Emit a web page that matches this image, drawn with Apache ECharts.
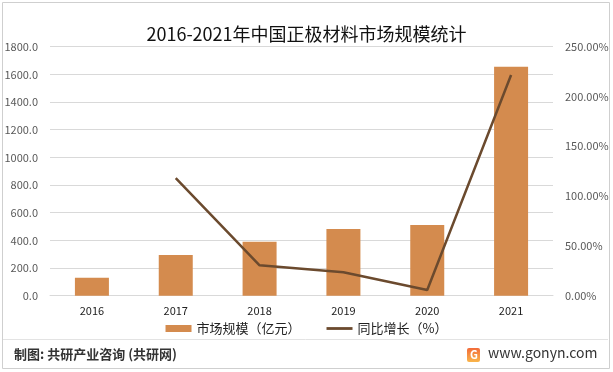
<!DOCTYPE html>
<html><head><meta charset="utf-8">
<script src="https://cdn.jsdelivr.net/npm/echarts@6/dist/echarts.min.js"></script>
<style>html,body{margin:0;padding:0;background:#fff}#c{width:613px;height:372px}</style>
</head><body><div id="c"></div>
<script>
const categories = ['2016','2017','2018','2019','2020','2021'];
const marketSize = [130, 294, 390, 482, 511, 1655];
const growth = [null, 118, 30.5, 23.5, 5.7, 221.6];
const leftTicks = [0, 1800, 200];
const rightTicks = [0, 250, 50];
const font = '"Noto Sans CJK SC", "Noto Sans", sans-serif';

const chart = echarts.init(document.getElementById('c'));
chart.setOption({
  animation: false,
  textStyle: { fontFamily: font },
  title: {
    text: '2016-2021年中国正极材料市场规模统计',
    left: 'center', top: 20,
    textStyle: { fontSize: 18, fontWeight: 'normal', color: '#111', fontFamily: font }
  },
  grid: { left: 50, right: 60, top: 46.7, bottom: 76.3 },
  legend: {
    top: 317, left: 'center', itemGap: 26, itemWidth: 26, itemHeight: 7,
    textStyle: { fontSize: 13, color: '#222', fontFamily: font },
    data: [
      { name: '市场规模（亿元）', icon: 'rect' },
      { name: '同比增长（%）', icon: 'path://M0,0L26,0L26,2.8L0,2.8Z', itemStyle: { color: '#6B4A2E' } }
    ]
  },
  xAxis: {
    type: 'category', data: categories,
    axisLine: { lineStyle: { color: '#d9d9d9' } },
    axisTick: { show: false },
    axisLabel: { color: '#222', fontSize: 11, margin: 10 }
  },
  yAxis: [
    { type: 'value', min: leftTicks[0], max: leftTicks[1], interval: leftTicks[2],
      axisLine: { show: false }, axisTick: { show: false },
      axisLabel: { color: '#595959', fontSize: 11, margin: 12, formatter: v => v.toFixed(1) },
      splitLine: { lineStyle: { color: '#d9d9d9' } } },
    { type: 'value', min: rightTicks[0], max: rightTicks[1], interval: rightTicks[2],
      axisLine: { show: false }, axisTick: { show: false },
      axisLabel: { color: '#595959', fontSize: 11, margin: 12, formatter: v => v.toFixed(2) + '%' },
      splitLine: { show: false } }
  ],
  series: [
    { name: '市场规模（亿元）', type: 'bar', data: marketSize, barWidth: 34,
      itemStyle: { color: '#D48B4E' } },
    { name: '同比增长（%）', type: 'line', yAxisIndex: 1, data: growth,
      symbol: 'none', lineStyle: { color: '#6B4A2E', width: 2.5 }, itemStyle: { color: '#6B4A2E' } }
  ],
  graphic: [
    { type: 'rect', shape: { x: 2.5, y: 2.5, width: 607, height: 366 }, style: { fill: 'none', stroke: '#cfcfcf', lineWidth: 1 }, z: -1 },
    { type: 'line', shape: { x1: 3, y1: 339.5, x2: 608, y2: 339.5 }, style: { stroke: '#e3e3e3', lineWidth: 1 } },
    { type: 'text', left: 14, top: 348, style: { text: '制图: 共研产业咨询 (共研网)', font: 'bold 13px ' + font, fill: '#333' } },
    { type: 'rect', shape: { x: 467, y: 348, width: 13, height: 14, r: 2 },
      style: { fill: new echarts.graphic.LinearGradient(0, 0, 0, 1, [{ offset: 0, color: '#F26B3A' }, { offset: 1, color: '#F9B54A' }]) } },
    { type: 'text', left: 470, top: 349, style: { text: 'G', font: 'bold 11px ' + font, fill: '#fff' } },
    { type: 'text', left: 488, top: 346, style: { text: 'www.gonyn.com', font: '14px ' + font, fill: '#333' } }
  ]
});
</script></body></html>
